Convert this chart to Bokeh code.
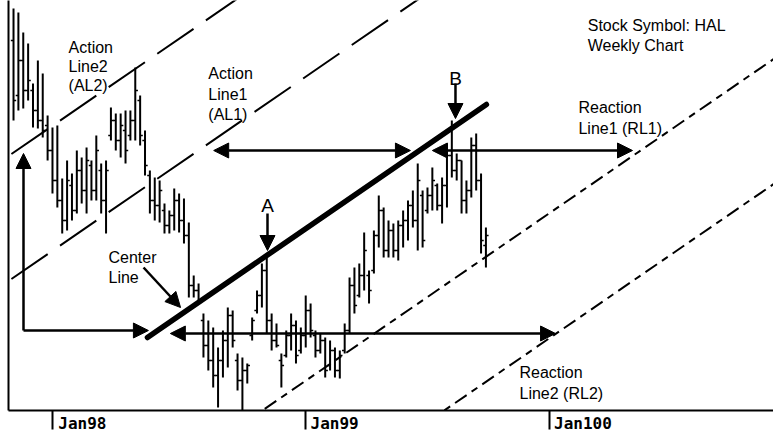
import numpy as np
from bokeh.plotting import figure
from bokeh.models import ColumnDataSource, Range1d, FixedTicker, Arrow, NormalHead
from bokeh.core.properties import value
from bokeh.embed import file_html
from bokeh.resources import INLINE

# ---------------- data (weekly bars, week 0 = first week of Jan 1998) ----------------
weeks = list(range(-8, 90))
highs = [65.2, 64.8, 62.8, 61.7, 57.7, 60.0, 58.7, 54.5, 53.3, 53.5,
         48.2, 50.0, 48.7, 51.0, 50.3, 51.3, 50.0, 52.5, 49.7, 50.0,
         55.3, 54.7, 54.7, 55.0, 55.0, 59.3, 56.5, 53.0, 49.0, 48.3,
         48.0, 45.7, 45.0, 47.2, 46.7, 46.2, 43.8, 38.5, 37.7, 34.7,
         34.0, 33.3, 31.3, 33.0, 35.3, 35.0, 30.7, 30.3, 29.7, 34.3,
         37.0, 39.7, 40.5, 34.7, 33.7, 30.7, 33.0, 34.7, 34.0, 33.3,
         36.5, 35.7, 33.0, 32.7, 32.3, 32.0, 31.3, 31.0, 33.7, 38.3,
         39.3, 39.7, 42.8, 39.0, 43.0, 46.5, 45.3, 44.0, 43.7, 44.0,
         45.0, 46.0, 47.0, 49.7, 47.0, 47.3, 49.3, 47.7, 48.3, 51.7,
         54.0, 50.7, 50.0, 48.0, 52.3, 52.7, 48.7, 43.3]
lows = [54.0, 55.0, 55.2, 56.0, 53.3, 53.2, 52.3, 50.0, 46.7, 45.3,
        42.7, 43.0, 44.0, 44.7, 45.7, 44.7, 46.0, 46.0, 44.7, 42.7,
        52.0, 51.0, 50.3, 49.7, 52.0, 52.0, 51.5, 48.5, 44.7, 44.0,
        43.8, 42.7, 42.7, 43.0, 42.8, 41.7, 36.3, 36.3, 35.7, 30.3,
        29.0, 27.3, 25.3, 28.3, 29.3, 31.3, 27.0, 25.0, 27.7, 32.0,
        34.7, 35.3, 32.7, 31.0, 31.3, 27.3, 30.3, 31.0, 29.7, 30.7,
        31.3, 32.3, 30.3, 30.7, 28.3, 29.0, 28.3, 28.2, 30.7, 32.7,
        34.7, 36.3, 37.0, 35.7, 38.7, 41.3, 40.3, 40.3, 40.3, 40.0,
        41.3, 42.0, 43.3, 41.0, 41.3, 44.7, 45.0, 45.0, 43.7, 45.3,
        48.3, 48.0, 44.7, 44.7, 46.3, 47.0, 40.7, 39.3]
opens = [62, 56.5, 60, 57, 57, 55, 54, 53.5, 51, 48,
         46, 44, 47.5, 45, 49, 47, 49.5, 47, 49, 46,
         52.5, 54, 52, 53, 52.5, 54, 56, 52, 48.5, 46,
         45.5, 45, 43.5, 44.5, 46, 44, 42.5, 37.5, 37, 34,
         31.5, 30, 28.5, 30, 32, 34.5, 30, 28, 29, 32.5,
         35, 36.5, 39, 34, 32, 30, 30.5, 32.5, 33.5, 31,
         32.5, 35, 32.5, 31, 32, 29.5, 31, 29, 31, 33,
         37.5, 36.5, 38.5, 38.5, 39, 42.5, 45, 41, 43, 41,
         43.5, 44, 45.5, 44, 46.5, 45, 46.5, 47.5, 45.5, 47.5,
         50.5, 49, 50, 46, 47, 51.5, 48, 41.5]
closes = [56, 60, 57, 58, 55, 54, 53, 51, 48, 46,
          44, 48, 45, 49, 47, 50, 47, 51, 46, 49,
          54, 52, 53.5, 51, 54, 57, 52.5, 49.5, 46, 45.5,
          47, 43.5, 44.5, 46, 44, 42.5, 37.5, 37, 36, 31.5,
          30, 28.5, 30, 32, 34.5, 32, 28, 29, 29.5, 34,
          36.5, 39, 34, 32, 31.5, 29.5, 32.5, 33.5, 30.5, 32.5,
          35, 33, 31, 32, 29, 31, 29, 30.5, 33, 37.5,
          35.5, 38.5, 41, 37, 42.5, 45, 41, 43, 41, 43.5,
          44, 45.5, 44, 48, 42, 46.5, 48, 45.5, 47.5, 50.5,
          49, 50, 46, 47, 51.5, 48, 42, 42.5]

tick_weeks = [0, 52, 102]
tick_labels = ["Jan98", "Jan99", "Jan100"]

# median line (pitchfork centre) and parallel action / reaction lines
center_start = (19.5, 32.3)
center_end = (89.1, 55.6)
action_offsets = [27.7, 15.2]      # AL2, AL1
reaction_offsets = [-15.2, -27.7]  # RL1, RL2

note_text = ["Action", "Line2", "(AL2)", "Action", "Line1", "(AL1)", "Center", "Line",
             "Stock Symbol: HAL", "Weekly Chart", "Reaction", "Line1 (RL1)",
             "Reaction", "Line2 (RL2)"]
note_x = [3.3, 3.3, 3.3, 32.0, 32.0, 32.0, 11.5, 11.5, 109.9, 109.9, 108.0, 108.0, 95.9, 95.9]
note_y = [61.3, 59.4, 57.5, 58.7, 56.6, 54.6, 40.3, 38.3, 63.5, 61.5, 55.3, 53.2, 28.8, 26.7]

point_text = ["A", "B"]
point_x = [44.15, 82.75]
point_y = [45.5, 58.2]

# arrows: x0, y0, x1, y1, double-headed?
arrows = [(-5.95, 33.0, -5.95, 50.7, False),
          (-5.95, 33.0, 19.7, 33.0, False),
          (24.2, 32.7, 103.3, 32.7, True),
          (33.1, 51.0, 73.5, 51.0, True),
          (78.0, 51.0, 119.1, 51.0, True),
          (44.15, 44.7, 44.15, 41.0, False),
          (82.75, 57.7, 82.75, 54.2, False),
          (18.7, 39.3, 26.3, 35.3, False)]

# ---------------- figure ----------------
X0, X1 = -9.03, 148.05
p = figure(width=773, height=435, output_backend="svg", toolbar_location=None,
           x_range=Range1d(X0, X1), y_range=Range1d(25, 66),
           min_border_left=8, min_border_right=0, min_border_top=0, min_border_bottom=25)
p.background_fill_color = "white"
p.border_fill_color = "white"
p.outline_line_color = None
p.xgrid.visible = False
p.ygrid.visible = False

NB = "\u00a0"
xa = p.xaxis[0]
xa.ticker = FixedTicker(ticks=tick_weeks)
xa.major_label_overrides = {t: NB * (len(l) + 1) + l for t, l in zip(tick_weeks, tick_labels)}
xa.axis_label = None
xa.axis_label_standoff = 0
xa.axis_line_width = 2
xa.axis_line_color = "black"
xa.major_tick_out = 19
xa.major_tick_in = 0
xa.major_tick_line_width = 2
xa.minor_tick_out = 0
xa.minor_tick_in = 0
xa.major_label_standoff = -16
xa.major_label_text_line_height = 0.8
xa.major_label_text_font = "DejaVu Sans Mono"
xa.major_label_text_font_style = "bold"
xa.major_label_text_font_size = "16px"
xa.major_label_text_color = "black"

ya = p.yaxis[0]
ya.ticker = FixedTicker(ticks=[])
ya.major_label_text_font_size = "0px"
ya.axis_label = None
ya.axis_label_standoff = 0
ya.major_tick_out = 0
ya.major_tick_in = 0
ya.minor_tick_out = 0
ya.minor_tick_in = 0
ya.axis_line_width = 2
ya.axis_line_color = "black"

# ---------------- OHLC bars ----------------
w = np.array(weeks, dtype=float)
src = ColumnDataSource(dict(week=w, left=w - 0.55, right=w + 0.55,
                            high=highs, low=lows, open=opens, close=closes))
p.segment(x0="week", y0="low", x1="week", y1="high", source=src, line_width=2, line_color="black")
p.segment(x0="left", y0="open", x1="week", y1="open", source=src, line_width=1.5, line_color="black")
p.segment(x0="week", y0="close", x1="right", y1="close", source=src, line_width=1.5, line_color="black")

# ---------------- pitchfork lines ----------------
slope = (center_end[1] - center_start[1]) / (center_end[0] - center_start[0])

def channel(xs, off):
    return [center_start[1] + slope * (x - center_start[0]) + off for x in xs]

for off in action_offsets:
    xs = [X0 + 0.6, 95]
    p.line(xs, channel(xs, off), line_width=2, line_color="black", line_dash="44 15")
for off in reaction_offsets:
    xs = [38, X1]
    p.line(xs, channel(xs, off), line_width=2, line_color="black", line_dash="14 6 7 6")
p.line([center_start[0], center_end[0]], [center_start[1], center_end[1]],
       line_width=5.5, line_color="black", line_cap="round")

# ---------------- arrows ----------------
for x0, y0, x1, y1, both in arrows:
    head = NormalHead(size=15, fill_color="black", line_color="black", line_width=1)
    start = NormalHead(size=15, fill_color="black", line_color="black", line_width=1) if both else None
    p.add_layout(Arrow(end=head, start=start, x_start=x0, y_start=y0, x_end=x1, y_end=y1,
                       line_width=2.5, line_color="black"))

# ---------------- texts ----------------
p.text(x=note_x, y=note_y, text=note_text, text_font=value("Liberation Sans"),
       text_font_size="16px", text_color="#000000", text_align="left", text_baseline="alphabetic")
p.text(x=point_x, y=point_y, text=point_text, text_font=value("Liberation Sans"),
       text_font_size="19px", text_color="#000000", text_align="center", text_baseline="alphabetic")

open("out.html", "w").write(file_html(p, INLINE))
